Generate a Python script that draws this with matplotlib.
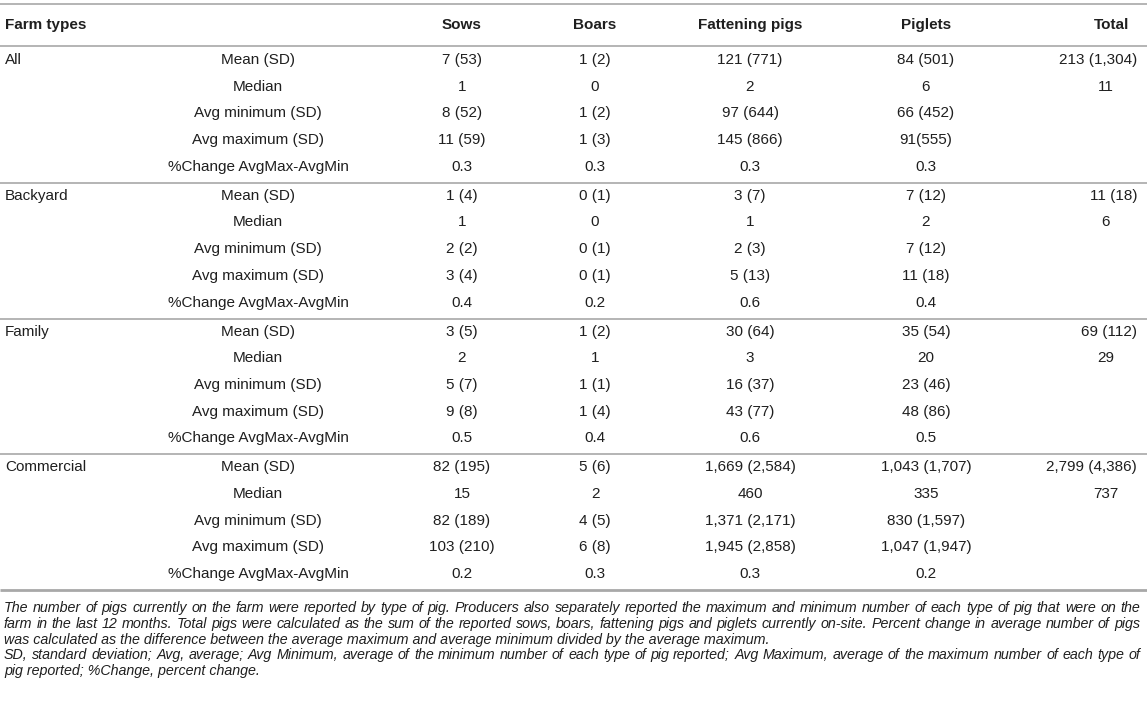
import matplotlib
matplotlib.use('Agg')
import matplotlib.pyplot as plt

plt.rcParams['font.family'] = ['Liberation Sans', 'DejaVu Sans']

farm_types = ['All', 'Backyard', 'Family', 'Commercial']
stat_labels = ['Mean (SD)', 'Median', 'Avg minimum (SD)', 'Avg maximum (SD)', '%Change AvgMax-AvgMin']
columns = ['Sows', 'Boars', 'Fattening pigs', 'Piglets', 'Total']

sows = ['7 (53)', '1', '8 (52)', '11 (59)', '0.3',
        '1 (4)', '1', '2 (2)', '3 (4)', '0.4',
        '3 (5)', '2', '5 (7)', '9 (8)', '0.5',
        '82 (195)', '15', '82 (189)', '103 (210)', '0.2']
boars = ['1 (2)', '0', '1 (2)', '1 (3)', '0.3',
         '0 (1)', '0', '0 (1)', '0 (1)', '0.2',
         '1 (2)', '1', '1 (1)', '1 (4)', '0.4',
         '5 (6)', '2', '4 (5)', '6 (8)', '0.3']
fattening = ['121 (771)', '2', '97 (644)', '145 (866)', '0.3',
             '3 (7)', '1', '2 (3)', '5 (13)', '0.6',
             '30 (64)', '3', '16 (37)', '43 (77)', '0.6',
             '1,669 (2,584)', '460', '1,371 (2,171)', '1,945 (2,858)', '0.3']
piglets = ['84 (501)', '6', '66 (452)', '91(555)', '0.3',
           '7 (12)', '2', '7 (12)', '11 (18)', '0.4',
           '35 (54)', '20', '23 (46)', '48 (86)', '0.5',
           '1,043 (1,707)', '335', '830 (1,597)', '1,047 (1,947)', '0.2']
total = ['213 (1,304)', '11', '', '', '',
         '11 (18)', '6', '', '', '',
         '69 (112)', '29', '', '', '',
         '2,799 (4,386)', '737', '', '', '']

footnote = [
    'The number of pigs currently on the farm were reported by type of pig. Producers also separately reported the maximum and minimum number of each type of pig that were on the',
    'farm in the last 12 months. Total pigs were calculated as the sum of the reported sows, boars, fattening pigs and piglets currently on-site. Percent change in average number of pigs',
    'was calculated as the difference between the average maximum and average minimum divided by the average maximum.',
    'SD, standard deviation; Avg, average; Avg Minimum, average of the minimum number of each type of pig reported; Avg Maximum, average of the maximum number of each type of',
    'pig reported; %Change, percent change.',
]
justified = [True, True, False, True, False]

W, H = 1147, 702
fig = plt.figure(figsize=(W / 100, H / 100), dpi=100)
ax = fig.add_axes([0, 0, 1, 1])
ax.set_xlim(0, W)
ax.set_ylim(H, 0)
ax.axis('off')

txt = '#1f1f1f'
rule = '#a8a8a8'
fs = 11
fs_note = 10.3

# layout (pixels)
col_x = [462, 595, 750, 926]
total_right = 1137
total_center = 1106
label_x = 258
row_h = 26.7

def hline(y, lw=1.2):
    ax.plot([0, W], [y, y], color=rule, lw=lw, solid_capstyle='butt')

hline(4)
ax.text(5, 25, 'Farm types', ha='left', va='center', fontsize=fs, fontweight='bold', color=txt)
for x, name in zip(col_x, columns[:4]):
    ax.text(x, 25, name, ha='center', va='center', fontsize=fs, fontweight='bold', color=txt)
ax.text(1112, 25, columns[4], ha='center', va='center', fontsize=fs, fontweight='bold', color=txt)
hline(46)

series = [sows, boars, fattening, piglets]
y_mean = 60
for g, ft in enumerate(farm_types):
    ax.text(5, y_mean, ft, ha='left', va='center', fontsize=fs, color=txt)
    for r, lab in enumerate(stat_labels):
        i = g * 5 + r
        y = y_mean + r * row_h
        ax.text(label_x, y, lab, ha='center', va='center', fontsize=fs, color=txt)
        for x, s in zip(col_x, series):
            ax.text(x, y, s[i], ha='center', va='center', fontsize=fs, color=txt)
        if total[i]:
            if '(' in total[i]:
                ax.text(total_right, y, total[i], ha='right', va='center', fontsize=fs, color=txt)
            else:
                ax.text(total_center, y, total[i], ha='center', va='center', fontsize=fs, color=txt)
    y_line = y_mean + 4 * row_h + 16
    hline(y_line, lw=1.2 if g < 3 else 2.0)
    y_mean = y_line + 13

# footnote, justified like the journal layout
renderer = fig.canvas.get_renderer()
fy = 608
for line, just in zip(footnote, justified):
    if just:
        words = line.split(' ')
        ts = [ax.text(0, fy, w, ha='left', va='center', fontsize=fs_note, style='italic', color=txt)
              for w in words]
        widths = [t.get_window_extent(renderer).width for t in ts]
        gap = (1140 - 4 - sum(widths)) / (len(words) - 1)
        x = 4
        for t, w in zip(ts, widths):
            t.set_x(x)
            x += w + gap
    else:
        ax.text(4, fy, line, ha='left', va='center', fontsize=fs_note, style='italic', color=txt)
    fy += 15.8

fig.savefig('out.png', dpi=100)
